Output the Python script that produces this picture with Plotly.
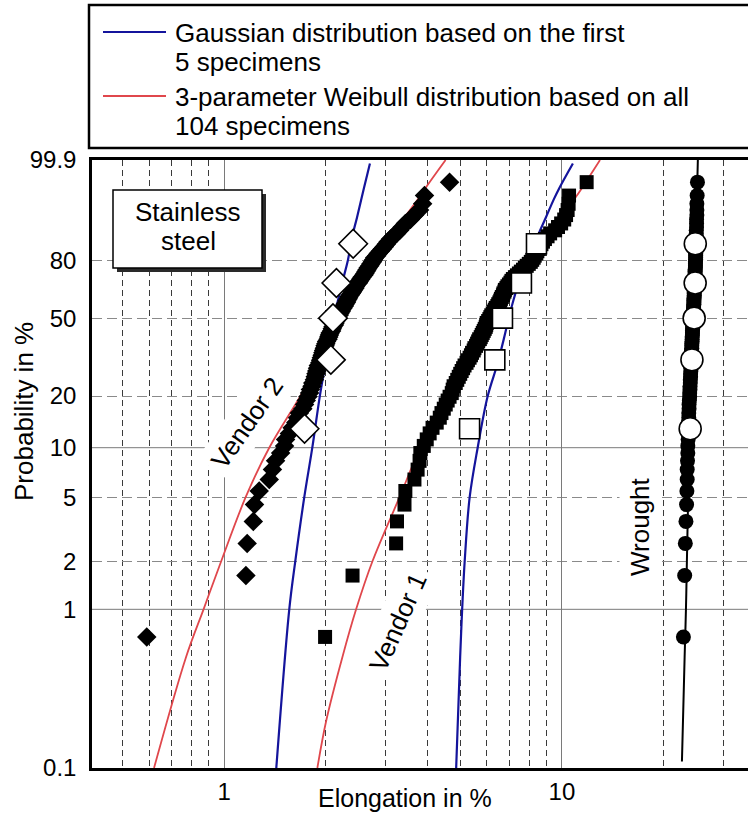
import numpy as np
import plotly.graph_objects as go

# ---------------- data ----------------
# elongation (%) of every specimen, sorted ascending
vendor2_elong = [0.59, 1.16, 1.17, 1.22, 1.23, 1.27, 1.36, 1.39, 1.42, 1.47,
                 1.51, 1.52, 1.56, 1.59, 1.63, 1.65, 1.67, 1.71, 1.73, 1.75,
                 1.77, 1.79, 1.80, 1.82, 1.83, 1.85, 1.86, 1.87, 1.88, 1.89,
                 1.90, 1.92, 1.93, 1.94, 1.95, 1.96, 1.97, 1.98, 1.99, 2.00,
                 2.01, 2.03, 2.04, 2.05, 2.06, 2.08, 2.09, 2.10, 2.12, 2.13,
                 2.14, 2.16, 2.17, 2.19, 2.20, 2.22, 2.23, 2.25, 2.27, 2.28,
                 2.30, 2.31, 2.33, 2.34, 2.36, 2.38, 2.40, 2.42, 2.44, 2.45,
                 2.47, 2.50, 2.52, 2.54, 2.56, 2.59, 2.61, 2.63, 2.65, 2.67,
                 2.70, 2.72, 2.75, 2.77, 2.79, 2.83, 2.86, 2.90, 2.94, 2.98,
                 3.02, 3.06, 3.11, 3.17, 3.24, 3.31, 3.37, 3.44, 3.56, 3.66,
                 3.79, 3.87, 3.92, 4.65]

vendor1_elong = [1.99, 2.40, 3.23, 3.25, 3.42, 3.44, 3.66, 3.74, 3.79, 3.81,
                 3.90, 3.98, 4.06, 4.14, 4.26, 4.35, 4.40, 4.47, 4.53, 4.59,
                 4.65, 4.72, 4.75, 4.78, 4.85, 4.90, 4.95, 5.00, 5.05, 5.10,
                 5.15, 5.22, 5.27, 5.33, 5.38, 5.42, 5.48, 5.51, 5.57, 5.61,
                 5.65, 5.69, 5.75, 5.79, 5.83, 5.87, 5.91, 5.95, 5.97, 5.99,
                 6.05, 6.10, 6.14, 6.18, 6.24, 6.29, 6.33, 6.37, 6.44, 6.48,
                 6.53, 6.57, 6.60, 6.64, 6.69, 6.71, 6.76, 6.78, 6.85, 6.90,
                 6.97, 7.04, 7.09, 7.16, 7.26, 7.36, 7.46, 7.56, 7.67, 7.77,
                 7.87, 7.98, 8.09, 8.17, 8.25, 8.31, 8.40, 8.46, 8.55, 8.61,
                 8.70, 8.79, 8.91, 9.07, 9.23, 9.55, 9.74, 9.95, 10.16, 10.29,
                 10.40, 10.47, 10.50, 11.84]

wrought_elong = [22.9, 23.1, 23.2, 23.3, 23.4, 23.45, 23.5, 23.5, 23.55, 23.6,
                 23.6, 23.65, 23.65, 23.7, 23.7, 23.75, 23.75, 23.8, 23.8, 23.85,
                 23.9, 23.9, 23.95, 23.95, 24.0, 24.0, 24.05, 24.05, 24.1, 24.1,
                 24.1, 24.15, 24.15, 24.15, 24.2, 24.2, 24.2, 24.25, 24.25, 24.25,
                 24.3, 24.3, 24.3, 24.35, 24.35, 24.35, 24.4, 24.4, 24.4, 24.45,
                 24.45, 24.45, 24.5, 24.5, 24.5, 24.5, 24.55, 24.55, 24.55, 24.6,
                 24.6, 24.6, 24.6, 24.65, 24.65, 24.65, 24.65, 24.7, 24.7, 24.7,
                 24.7, 24.75, 24.75, 24.75, 24.75, 24.8, 24.8, 24.8, 24.8, 24.85,
                 24.85, 24.85, 24.85, 24.9, 24.9, 24.9, 24.9, 24.9, 24.95, 24.95,
                 24.95, 24.95, 25.0, 25.0, 25.0, 25.0, 25.05, 25.05, 25.05, 25.1,
                 25.1, 25.1, 25.15, 25.2]

# the first five specimens of each group
vendor2_first5 = [1.73, 2.07, 2.10, 2.15, 2.41]
vendor1_first5 = [5.33, 6.33, 6.67, 7.59, 8.41]
wrought_first5 = [23.98, 24.27, 24.64, 24.81, 24.83]

# fitted distribution curves: (elongation %, probability %)
gauss_v2_elong = [1.427, 1.559, 1.624, 1.727, 1.824, 1.920, 1.994, 2.114, 2.247, 2.325, 2.398, 2.474, 2.594, 2.702]
gauss_v2_prob = [0.1, 1, 2, 5, 10, 20, 30, 50, 70, 80, 90, 95, 99, 99.86]

gauss_v1_elong = [4.864, 4.998, 5.067, 5.155, 5.333, 5.632, 6.031, 6.446, 6.729, 6.962, 7.204, 7.506, 7.955, 8.49, 8.966, 9.470, 9.831, 10.78]
gauss_v1_prob = [0.1, 0.5, 1, 2, 5, 10, 20, 30, 40, 50, 60, 70, 80, 90, 95, 98, 99, 99.86]

weib_v2_elong = [0.620, 0.771, 0.869, 0.980, 1.158, 1.360, 1.681, 1.900, 2.210, 2.585, 2.806, 3.130, 3.421, 3.752, 3.949, 4.526]
weib_v2_prob = [0.1, 0.5, 1, 2, 5, 10, 20, 30, 50, 70, 80, 90, 95, 98, 99, 99.9]

weib_v1_elong = [1.888, 2.007, 2.239, 2.459, 2.749, 3.306, 3.816, 4.652, 5.261, 5.831, 6.348, 6.867, 7.456, 8.145, 9.120, 9.966, 10.89, 11.47, 12.97]
weib_v1_prob = [0.1, 0.2, 0.5, 1, 2, 5, 10, 20, 30, 40, 50, 60, 70, 80, 90, 95, 98, 99, 99.9]

weib_wr_elong = [22.67, 23.09, 23.30, 23.45, 23.65, 23.81, 24.06, 24.47, 24.81, 24.95, 25.27]
weib_wr_prob = [0.11, 0.5, 1, 2, 5, 10, 20, 50, 80, 90, 99.9]

prob_ticks = [0.1, 1, 2, 5, 10, 20, 50, 80, 99.9]
prob_tick_text = ["0.1", "1", "2", "5", "10", "20", "50", "80", "99.9"]
prob_dashed = [2, 5, 20, 50, 80]
prob_solid = [1, 10]
elong_ticks = [1, 10]
elong_dashed = [0.5, 0.6, 0.7, 0.8, 0.9, 2, 3, 4, 5, 6, 7, 8, 9, 20, 30]


# ---------------- helpers ----------------
def wb(p_percent):
    """Weibull probability-paper ordinate ln(-ln(1-F))."""
    p = np.asarray(p_percent, dtype=float) / 100.0
    return np.log(-np.log(1.0 - p))


def median_rank(n):
    i = np.arange(1, n + 1)
    return (i - 0.3) / (n + 0.4) * 100.0


# pixel geometry of the plotting area
W, H = 748, 814
L, R, T, B = 92, 748, 160, 768


def px(x):
    return (x - L) / (R - L)


def py(y):
    return (B - y) / (B - T)


FONT = "Liberation Sans, Arial, Helvetica, sans-serif"
RED = "#e0474c"
BLUE = "#14149c"

fig = go.Figure()

# fitted curves
for xs, ps in [(weib_v2_elong, weib_v2_prob), (weib_v1_elong, weib_v1_prob)]:
    fig.add_trace(go.Scatter(x=xs, y=wb(ps), mode="lines", line=dict(color=RED, width=1.8, shape="spline"),
                             showlegend=False, hoverinfo="skip"))
for xs, ps in [(gauss_v2_elong, gauss_v2_prob), (gauss_v1_elong, gauss_v1_prob)]:
    fig.add_trace(go.Scatter(x=xs, y=wb(ps), mode="lines", line=dict(color=BLUE, width=2.2, shape="spline"),
                             showlegend=False, hoverinfo="skip"))
fig.add_trace(go.Scatter(x=weib_wr_elong, y=wb(weib_wr_prob), mode="lines",
                         line=dict(color="black", width=2, shape="spline"), showlegend=False, hoverinfo="skip"))

# all specimens
groups = [
    ("Vendor 2", vendor2_elong, vendor2_first5, "diamond", 15, 22),
    ("Vendor 1", vendor1_elong, vendor1_first5, "square", 14, 20),
    ("Wrought", wrought_elong, wrought_first5, "circle", 15, 22),
]
for name, allv, first5, sym, s_all, s_first in groups:
    fig.add_trace(go.Scatter(x=allv, y=wb(median_rank(len(allv))), mode="markers", name=name,
                             marker=dict(symbol=sym, size=s_all, color="black", line=dict(width=0)),
                             showlegend=False))
for name, allv, first5, sym, s_all, s_first in groups:
    fig.add_trace(go.Scatter(x=first5, y=wb(median_rank(len(first5))), mode="markers", name=name + " (first 5)",
                             marker=dict(symbol=sym, size=s_first, color="white",
                                         line=dict(width=1.6, color="black")),
                             showlegend=False))

shapes = []
# solid horizontal grid lines at 1 % and 10 %
for p in prob_solid:
    yv = float(wb(p))
    shapes.append(dict(type="line", xref="x domain", yref="y", x0=0, x1=1, y0=yv, y1=yv,
                       line=dict(color="#7a7a7a", width=1), layer="below"))

# legend frame and keys
shapes.append(dict(type="rect", xref="paper", yref="paper", x0=px(89), x1=px(770), y0=py(148), y1=py(5),
                   line=dict(color="black", width=2.5), fillcolor="white"))
shapes.append(dict(type="line", xref="paper", yref="paper", x0=px(103), x1=px(166), y0=py(32), y1=py(32),
                   line=dict(color=BLUE, width=2)))
shapes.append(dict(type="line", xref="paper", yref="paper", x0=px(103), x1=px(166), y0=py(96), y1=py(96),
                   line=dict(color=RED, width=2)))

# "Stainless steel" box with drop shadow
shapes.append(dict(type="rect", xref="paper", yref="paper", x0=px(117), x1=px(266), y0=py(272), y1=py(194),
                   line=dict(width=0), fillcolor="#2a2a2a", layer="above"))
shapes.append(dict(type="rect", xref="paper", yref="paper", x0=px(113), x1=px(262), y0=py(268), y1=py(190),
                   line=dict(color="black", width=1.5), fillcolor="white", layer="above"))

annotations = []
legend_lines = [("Gaussian distribution based on the first", 33),
                ("5 specimens", 62),
                ("3-parameter Weibull distribution based on all", 97),
                ("104 specimens", 126)]
for txt, yy in legend_lines:
    annotations.append(dict(text=txt, xref="paper", yref="paper", x=px(173), y=py(yy), xanchor="left",
                            yanchor="middle", showarrow=False, font=dict(size=26, family=FONT, color="black")))

annotations.append(dict(text="Stainless", xref="paper", yref="paper", x=px(188), y=py(212), xanchor="center",
                        yanchor="middle", showarrow=False, font=dict(size=26, family=FONT, color="black")))
annotations.append(dict(text="steel", xref="paper", yref="paper", x=px(188), y=py(241), xanchor="center",
                        yanchor="middle", showarrow=False, font=dict(size=26, family=FONT, color="black")))

# group labels along the data
for txt, cx, cy, ang in [("Vendor 2", 247, 423, -55), ("Vendor 1", 398, 622, -66), ("Wrought", 640, 527, -90)]:
    annotations.append(dict(text=txt, xref="paper", yref="paper", x=px(cx), y=py(cy), xanchor="center",
                            yanchor="middle", textangle=ang, showarrow=False, bgcolor="white", borderpad=5,
                            font=dict(size=26, family=FONT, color="black")))

# axis titles
annotations.append(dict(text="Elongation in %", xref="paper", yref="paper", x=px(405), y=py(798),
                        xanchor="center", yanchor="middle", showarrow=False,
                        font=dict(size=25, family=FONT, color="black")))
annotations.append(dict(text="Probability in %", xref="paper", yref="paper", x=px(24), y=py(412),
                        xanchor="center", yanchor="middle", textangle=-90, showarrow=False,
                        font=dict(size=26, family=FONT, color="black")))

fig.update_layout(
    width=W, height=H,
    margin=dict(l=L, r=W - R, t=T, b=H - B),
    paper_bgcolor="white", plot_bgcolor="white",
    font=dict(family=FONT, size=24, color="black"),
    showlegend=False,
    shapes=shapes, annotations=annotations,
    xaxis=dict(type="log", range=[np.log10(0.4062), np.log10(35.57)],
               tickvals=elong_ticks, ticktext=[str(v) for v in elong_ticks],
               ticks="", showgrid=True, gridcolor="#7a7a7a", gridwidth=1, zeroline=False,
               showline=True, linecolor="black", linewidth=2.5, mirror=True,
               tickfont=dict(size=24, family=FONT, color="black"),
               minor=dict(tickvals=elong_dashed, showgrid=True, gridcolor="#3a3a3a", gridwidth=1,
                          griddash="6px,4px", ticks="")),
    yaxis=dict(range=[float(wb(0.1)), float(wb(99.9))],
               tickvals=list(wb(prob_ticks)), ticktext=prob_tick_text,
               ticks="", showgrid=False, zeroline=False, ticklabelstandoff=8,
               showline=True, linecolor="black", linewidth=2.5,
               tickfont=dict(size=24, family=FONT, color="black"),
               minor=dict(tickvals=list(wb(prob_dashed)), showgrid=True, gridcolor="#8a8a8a", gridwidth=1,
                          griddash="10px,5px", ticks="")),
)

fig.write_html("out.html")
